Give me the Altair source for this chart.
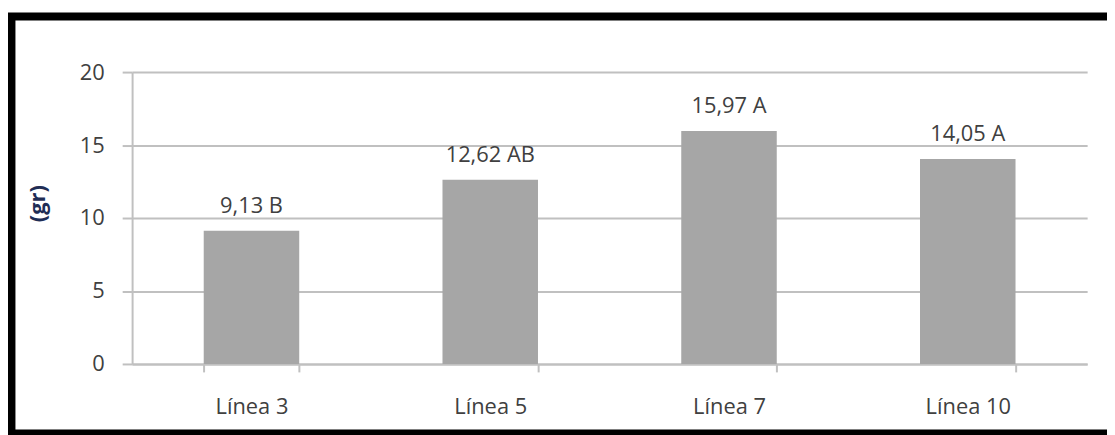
import altair as alt
import pandas as pd

categories = ["Línea 3", "Línea 5", "Línea 7", "Línea 10"]
values = [9.13, 12.62, 15.97, 14.05]
letters = ["B", "AB", "A", "A"]

df = pd.DataFrame({"cat": categories, "val": values, "grp": letters})
df["label"] = [f"{v:.2f}".replace(".", ",") + " " + g for v, g in zip(values, letters)]

FONT = "Open Sans"
TXT = "#404040"
GRID = "#c0c0c0"

base = alt.Chart(df)

x = alt.X(
    "cat:N",
    sort=categories,
    title=None,
    scale=alt.Scale(paddingInner=0.6, paddingOuter=0.3),
    axis=alt.Axis(
        labelAngle=0,
        labelFont=FONT,
        labelFontSize=22,
        labelColor=TXT,
        labelPadding=25,
        tickBand="extent",
        tickSize=8,
        tickColor=GRID,
        tickWidth=2,
        domainColor=GRID,
        domainWidth=2,
        grid=False,
    ),
)

y = alt.Y(
    "val:Q",
    title="(gr)",
    scale=alt.Scale(domain=[0, 20]),
    axis=alt.Axis(
        values=[0, 5, 10, 15, 20],
        labelFont=FONT,
        labelFontSize=22,
        labelColor=TXT,
        labelPadding=18,
        tickSize=10,
        tickColor=GRID,
        tickWidth=2,
        domainColor=GRID,
        domainWidth=2,
        gridColor=GRID,
        gridWidth=2,
        titleFont=FONT,
        titleFontSize=22,
        titleFontWeight="bold",
        titleColor="#1f2d55",
        titleAngle=-90,
        titleX=-95,
        titleY=132,
        titleAlign="center",
        titleBaseline="middle",
    ),
)

bars = base.mark_bar(color="#a6a6a6").encode(x=x, y=y)

labels = base.mark_text(
    baseline="alphabetic", dy=-18, font=FONT, fontSize=22, color=TXT
).encode(x=alt.X("cat:N", sort=categories), y="val:Q", text="label:N")

frame = alt.Chart(pd.DataFrame({"a": [0]})).mark_rect(
    fillOpacity=0, stroke="black", strokeWidth=8
).encode(
    x=alt.value(-121.5), x2=alt.value(990), y=alt.value(-56), y2=alt.value(364)
)

chart = (
    alt.layer(bars, labels, frame)
    .properties(
        width=962,
        height=294,
        autosize=alt.AutoSizeParams(type="none"),
        padding={"left": 125, "top": 63, "right": 20, "bottom": 70},
        background="white",
    )
    .configure_view(stroke=None)
)

chart.save("out.html", embed_options={"renderer": "svg", "actions": False})
